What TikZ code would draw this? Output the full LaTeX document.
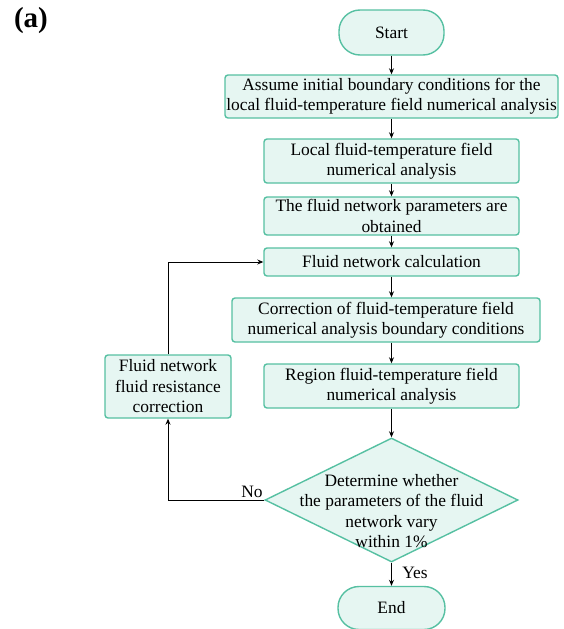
\documentclass[tikz,border=0pt]{standalone}
\usepackage{fontspec}
\setmainfont{Liberation Serif}
\usetikzlibrary{shapes.geometric,arrows.meta}
\definecolor{boxfill}{RGB}{230,246,242}
\definecolor{boxline}{RGB}{86,192,162}
\begin{document}
\begin{tikzpicture}[x=1pt,y=-1pt,
  every node/.style={font=\fontsize{17.4}{20.5}\selectfont},
  box/.style={draw=boxline,fill=boxfill,line width=1.4pt,rounded corners=3pt,align=center,inner sep=0pt},
  term/.style={draw=boxline,fill=boxfill,line width=1.4pt,rounded corners=21pt,align=center,inner sep=0pt},
  flow/.style={line width=0.9pt,-{Stealth[length=6pt,width=5pt]}},
  plain/.style={line width=0.9pt}]
\useasboundingbox (0,0) rectangle (564,629);
\node[font=\fontsize{29}{32}\bfseries\selectfont] (lab) at (31,21) {(a)};
\node[term,minimum width=105pt,minimum height=45pt] (start) at (391.5,32.5) {Start};
\node[box,minimum width=333pt,minimum height=43pt] (assume) at (391.5,96.5) {Assume initial boundary conditions for the\\local fluid-temperature field numerical analysis};
\node[box,minimum width=255pt,minimum height=44pt] (local) at (391.5,161) {Local fluid-temperature field\\numerical analysis};
\node[box,minimum width=255pt,minimum height=38pt] (param) at (391.5,216) {The fluid network parameters are\\obtained};
\node[box,minimum width=255pt,minimum height=28pt] (calc) at (391.5,262) {Fluid network calculation};
\node[box,minimum width=308pt,minimum height=44pt] (corr) at (386,320) {Correction of fluid-temperature field\\numerical analysis boundary conditions};
\node[box,minimum width=255pt,minimum height=44pt] (region) at (391.5,386) {Region fluid-temperature field\\numerical analysis};
\node[box,minimum width=126pt,minimum height=63pt] (resist) at (168,386.5) {Fluid network\\fluid resistance\\correction};
\node[diamond,draw=boxline,fill=boxfill,line width=1.4pt,inner sep=0pt,minimum width=253pt,minimum height=124pt] (dec) at (391.5,500) {};
\node[align=center] (dectext) at (391.5,511) {Determine whether\\the parameters of the fluid\\network vary\\within 1\%};
\node[term,minimum width=107pt,minimum height=43pt] (end) at (391.5,608) {End};
\node (no) at (252,492) {No};
\node (yes) at (415,573) {Yes};
\coordinate (c1) at (168,500);
\coordinate (c2) at (168,262);
\draw[flow] (start) -- (assume);
\draw[flow] (assume) -- (local);
\draw[flow] (local) -- (param);
\draw[flow] (param) -- (calc);
\draw[flow] (calc) -- (calc.south |- corr.north);
\draw[flow] (calc.south |- corr.south) -- (region);
\draw[flow] (region) -- (dec);
\draw[flow] (dec) -- (end);
\draw[flow] (dec.west) -- (c1) -- (resist.south);
\draw[flow] (resist.north) -- (c2) -- (calc.west);
\end{tikzpicture}
\end{document}
